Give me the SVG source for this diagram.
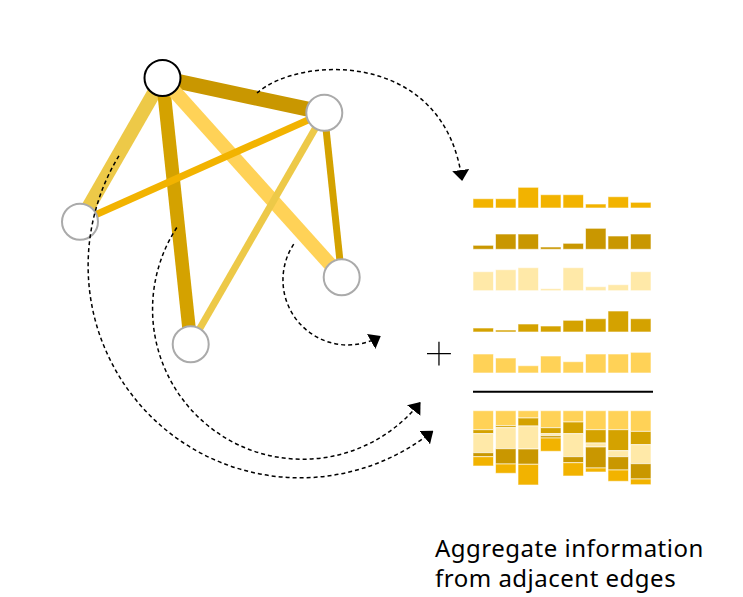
<svg xmlns="http://www.w3.org/2000/svg" width="743" height="597" viewBox="0 0 743 597">
<defs>
<marker id="ah" markerUnits="userSpaceOnUse" markerWidth="11" markerHeight="17" viewBox="0 0 11 17" refX="10" refY="8.5" orient="auto"><path d="M0,0 L11,8.5 L0,17 z" fill="#000"/></marker>
<style>
.n{fill:#fff;stroke:#aaa;stroke-width:2}
.e{fill:none}
.arc{fill:none;stroke:#000;stroke-width:1.5;stroke-dasharray:4 3;marker-end:url(#ah)}
.b{stroke:#fff;stroke-opacity:0.6;stroke-width:1}
.c1{fill:#F2B300}.c2{fill:#C99700}.c3{fill:#FFE9A8}.c4{fill:#D4A200}.c5{fill:#FFD257}
.t{font-family:"Noto Sans","Liberation Sans",sans-serif;font-size:24px;letter-spacing:0.5px;fill:#000}
</style>
</defs>
<rect width="743" height="597" fill="#fff"/>
<g id="edges">
<line class="e" x1="162.5" y1="78" x2="80" y2="221.7" stroke="#EDC948" stroke-width="14"/>
<line class="e" x1="162.5" y1="78" x2="324.3" y2="112.7" stroke="#C99700" stroke-width="15"/>
<line class="e" x1="162.5" y1="78" x2="190.7" y2="344.3" stroke="#D4A200" stroke-width="13.5"/>
<line class="e" x1="162.5" y1="78" x2="341.7" y2="277.3" stroke="#FFD257" stroke-width="14"/>
<line class="e" x1="324.3" y1="112.7" x2="80" y2="221.7" stroke="#F2B300" stroke-width="7"/>
<line class="e" x1="324.3" y1="112.7" x2="190.7" y2="344.3" stroke="#EDC948" stroke-width="7"/>
<line class="e" x1="324.3" y1="112.7" x2="341.7" y2="277.3" stroke="#D4A200" stroke-width="7"/>
</g>
<g id="node-top"><circle cx="162.5" cy="78" r="18" fill="#fff" stroke="#000" stroke-width="2"/></g>
<g id="node-right-top"><circle class="n" cx="324.3" cy="112.7" r="18"/></g>
<g id="node-left"><circle class="n" cx="80" cy="221.7" r="18"/></g>
<g id="node-bottom"><circle class="n" cx="190.7" cy="344.3" r="18"/></g>
<g id="node-right-bottom"><circle class="n" cx="341.7" cy="277.3" r="18"/></g>
<g id="connectors">
<path class="arc" d="M257,93 C300,55 445,50 462,180"/>
<path class="arc" d="M176.8,227.5 A150,150 0 0 0 419.9,402.7"/>
<path class="arc" d="M118.9,155.8 A212,212 0 0 0 432.5,431.4"/>
<path class="arc" d="M293.7,244.2 A65,65 0 0 0 379.9,336.6"/>
</g>
<g id="bars-row1" class="b">
<rect class="c1" x="473" y="198.7" width="20.5" height="9.3"/>
<rect class="c1" x="495.5" y="198.7" width="20.5" height="9.3"/>
<rect class="c1" x="518" y="187.3" width="20.5" height="20.7"/>
<rect class="c1" x="540.5" y="194.7" width="20.5" height="13.3"/>
<rect class="c1" x="563" y="194.7" width="20.5" height="13.3"/>
<rect class="c1" x="585.5" y="204" width="20.5" height="4"/>
<rect class="c1" x="608" y="196.7" width="20.5" height="11.3"/>
<rect class="c1" x="630.5" y="202.3" width="20.5" height="5.7"/>
</g>
<g id="bars-row2" class="b">
<rect class="c2" x="473" y="245.3" width="20.5" height="4"/>
<rect class="c2" x="495.5" y="234" width="20.5" height="15.3"/>
<rect class="c2" x="518" y="234" width="20.5" height="15.3"/>
<rect class="c2" x="540.5" y="247" width="20.5" height="2.3"/>
<rect class="c2" x="563" y="243.3" width="20.5" height="6"/>
<rect class="c2" x="585.5" y="228.3" width="20.5" height="21"/>
<rect class="c2" x="608" y="236" width="20.5" height="13.3"/>
<rect class="c2" x="630.5" y="234" width="20.5" height="15.3"/>
</g>
<g id="bars-row3" class="b">
<rect class="c3" x="473" y="271.7" width="20.5" height="19"/>
<rect class="c3" x="495.5" y="269.7" width="20.5" height="21"/>
<rect class="c3" x="518" y="267.7" width="20.5" height="23"/>
<rect class="c3" x="540.5" y="288.7" width="20.5" height="2"/>
<rect class="c3" x="563" y="267.7" width="20.5" height="23"/>
<rect class="c3" x="585.5" y="286.7" width="20.5" height="4"/>
<rect class="c3" x="608" y="284.7" width="20.5" height="6"/>
<rect class="c3" x="630.5" y="271.7" width="20.5" height="19"/>
</g>
<g id="bars-row4" class="b">
<rect class="c4" x="473" y="328" width="20.5" height="4"/>
<rect class="c4" x="495.5" y="330" width="20.5" height="2"/>
<rect class="c4" x="518" y="324" width="20.5" height="8"/>
<rect class="c4" x="540.5" y="326" width="20.5" height="6"/>
<rect class="c4" x="563" y="320.3" width="20.5" height="11.7"/>
<rect class="c4" x="585.5" y="318.7" width="20.5" height="13.3"/>
<rect class="c4" x="608" y="311" width="20.5" height="21"/>
<rect class="c4" x="630.5" y="318.7" width="20.5" height="13.3"/>
</g>
<g id="bars-row5" class="b">
<rect class="c5" x="473" y="354" width="20.5" height="19"/>
<rect class="c5" x="495.5" y="358" width="20.5" height="15"/>
<rect class="c5" x="518" y="365.7" width="20.5" height="7.3"/>
<rect class="c5" x="540.5" y="356" width="20.5" height="17"/>
<rect class="c5" x="563" y="361.7" width="20.5" height="11.3"/>
<rect class="c5" x="585.5" y="354" width="20.5" height="19"/>
<rect class="c5" x="608" y="354" width="20.5" height="19"/>
<rect class="c5" x="630.5" y="352.3" width="20.5" height="20.7"/>
</g>
<g id="plus"><text x="439" y="370" text-anchor="middle" font-family="Inter,'Open Sans',sans-serif" font-size="58" font-weight="100">+</text></g>
<g id="sum-line"><line x1="473" y1="391.7" x2="653" y2="391.7" stroke="#000" stroke-width="2"/></g>
<g id="bars-aggregate" class="b">
<rect class="c5" x="473" y="410.7" width="20.5" height="19"/>
<rect class="c4" x="473" y="429.7" width="20.5" height="4"/>
<rect class="c3" x="473" y="433.7" width="20.5" height="19"/>
<rect class="c2" x="473" y="452.7" width="20.5" height="4"/>
<rect class="c1" x="473" y="456.7" width="20.5" height="9.3"/>
<rect class="c5" x="495.5" y="410.7" width="20.5" height="15"/>
<rect class="c4" x="495.5" y="425.7" width="20.5" height="2"/>
<rect class="c3" x="495.5" y="427.7" width="20.5" height="21"/>
<rect class="c2" x="495.5" y="448.7" width="20.5" height="15.3"/>
<rect class="c1" x="495.5" y="464" width="20.5" height="9.3"/>
<rect class="c5" x="518" y="410.7" width="20.5" height="7.3"/>
<rect class="c4" x="518" y="418" width="20.5" height="8"/>
<rect class="c3" x="518" y="426" width="20.5" height="23"/>
<rect class="c2" x="518" y="449" width="20.5" height="15.3"/>
<rect class="c1" x="518" y="464.3" width="20.5" height="20.7"/>
<rect class="c5" x="540.5" y="410.7" width="20.5" height="17"/>
<rect class="c4" x="540.5" y="427.7" width="20.5" height="6"/>
<rect class="c3" x="540.5" y="433.7" width="20.5" height="2"/>
<rect class="c2" x="540.5" y="435.7" width="20.5" height="2.3"/>
<rect class="c1" x="540.5" y="438" width="20.5" height="13.3"/>
<rect class="c5" x="563" y="410.7" width="20.5" height="11.3"/>
<rect class="c4" x="563" y="422" width="20.5" height="11.7"/>
<rect class="c3" x="563" y="433.7" width="20.5" height="23"/>
<rect class="c2" x="563" y="456.7" width="20.5" height="6"/>
<rect class="c1" x="563" y="462.7" width="20.5" height="13.3"/>
<rect class="c5" x="585.5" y="410.7" width="20.5" height="19"/>
<rect class="c4" x="585.5" y="429.7" width="20.5" height="13.3"/>
<rect class="c3" x="585.5" y="443" width="20.5" height="4"/>
<rect class="c2" x="585.5" y="447" width="20.5" height="21"/>
<rect class="c1" x="585.5" y="468" width="20.5" height="4"/>
<rect class="c5" x="608" y="410.7" width="20.5" height="19"/>
<rect class="c4" x="608" y="429.7" width="20.5" height="21"/>
<rect class="c3" x="608" y="450.7" width="20.5" height="6"/>
<rect class="c2" x="608" y="456.7" width="20.5" height="13.3"/>
<rect class="c1" x="608" y="470" width="20.5" height="11.3"/>
<rect class="c5" x="630.5" y="410.7" width="20.5" height="20.7"/>
<rect class="c4" x="630.5" y="431.4" width="20.5" height="13.3"/>
<rect class="c3" x="630.5" y="444.7" width="20.5" height="19"/>
<rect class="c2" x="630.5" y="463.7" width="20.5" height="15.3"/>
<rect class="c1" x="630.5" y="479" width="20.5" height="5.7"/>
</g>
<g id="caption">
<text class="t" x="435" y="557">Aggregate information</text>
<text class="t" x="435" y="587">from adjacent edges</text>
</g>
</svg>
